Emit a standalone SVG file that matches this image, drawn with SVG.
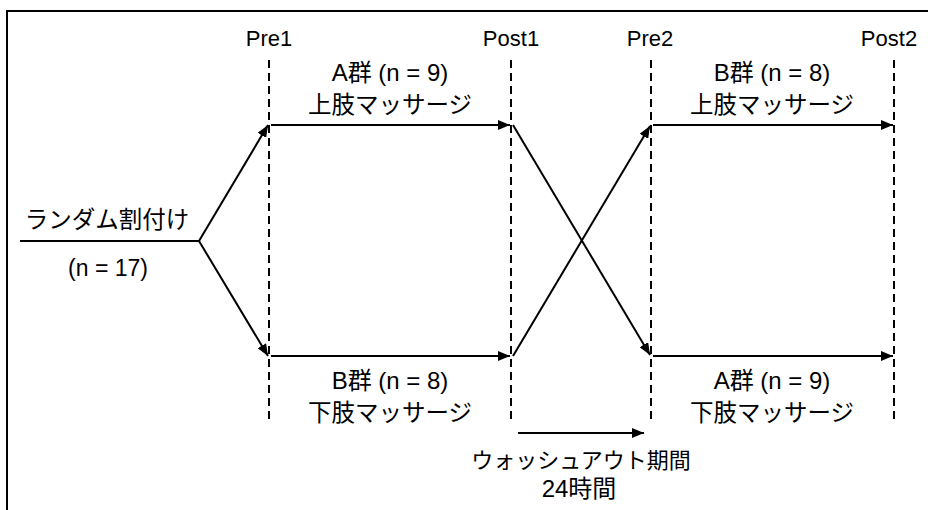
<svg xmlns="http://www.w3.org/2000/svg" width="928" height="510" viewBox="0 0 928 510">
  <defs>
    <marker id="ah" viewBox="0 0 12 10" refX="12" refY="5" markerWidth="12" markerHeight="10" markerUnits="userSpaceOnUse" orient="auto">
      <path d="M0,0 L12,5 L0,10 z" fill="#000"/>
    </marker>
    <style>
      text { font-family: "Liberation Sans", "Noto Sans CJK JP", sans-serif; font-size: 22px; fill: #000; text-anchor: middle; }
      text.jp { font-size: 23.5px; }
      text.mx { font-size: 24px; }
      .dash { stroke: #000; stroke-width: 2; stroke-dasharray: 8 5; fill: none; }
      .arr { stroke: #000; stroke-width: 2; fill: none; marker-end: url(#ah); }
      .ln { stroke: #000; stroke-width: 2; fill: none; }
    </style>
  </defs>
  <rect x="0" y="0" width="928" height="510" fill="#fff"/>
  <rect id="frame" x="7" y="11" width="930" height="510" fill="none" stroke="#000" stroke-width="2"/>

  <g id="timepoints">
    <g id="pre1"><line class="dash" x1="269" y1="60" x2="269" y2="421"/><text x="269" y="46">Pre1</text></g>
    <g id="post1"><line class="dash" x1="511" y1="60" x2="511" y2="421"/><text x="511" y="46">Post1</text></g>
    <g id="pre2"><line class="dash" x1="651" y1="60" x2="651" y2="421"/><text x="650" y="46">Pre2</text></g>
    <g id="post2"><line class="dash" x1="894" y1="60" x2="894" y2="421"/><text x="889" y="46">Post2</text></g>
  </g>

  <g id="random">
    <text class="jp" x="107" y="228">ランダム割付け</text>
    <text x="108" y="276" style="font-size:23px">(n = 17)</text>
  </g>

  <g id="groupA1"><text class="mx" x="390" y="81">A群 (n = 9)</text><text class="jp" x="390" y="113">上肢マッサージ</text></g>
  <g id="groupB1"><text class="mx" x="390" y="389">B群 (n = 8)</text><text class="jp" x="390" y="421">下肢マッサージ</text></g>
  <g id="groupB2"><text class="mx" x="772" y="81">B群 (n = 8)</text><text class="jp" x="772" y="113">上肢マッサージ</text></g>
  <g id="groupA2"><text class="mx" x="772" y="389">A群 (n = 9)</text><text class="jp" x="772" y="421">下肢マッサージ</text></g>
  <g id="washout"><text x="581" y="468">ウォッシュアウト期間</text><text class="mx" x="579" y="497">24時間</text></g>

  <g id="connectors">
    <line class="ln" x1="20" y1="241" x2="199" y2="241"/>
    <line class="arr" x1="199" y1="241" x2="268" y2="125"/>
    <line class="arr" x1="199" y1="241" x2="268" y2="356"/>
    <line class="arr" x1="271" y1="125" x2="510" y2="125"/>
    <line class="arr" x1="271" y1="356" x2="510" y2="356"/>
    <line class="arr" x1="513" y1="125" x2="650" y2="355"/>
    <line class="arr" x1="513" y1="356" x2="650" y2="126"/>
    <line class="arr" x1="653" y1="125" x2="893" y2="125"/>
    <line class="arr" x1="653" y1="356" x2="893" y2="356"/>
    <line class="arr" x1="518" y1="433" x2="644" y2="433"/>
  </g>
</svg>
